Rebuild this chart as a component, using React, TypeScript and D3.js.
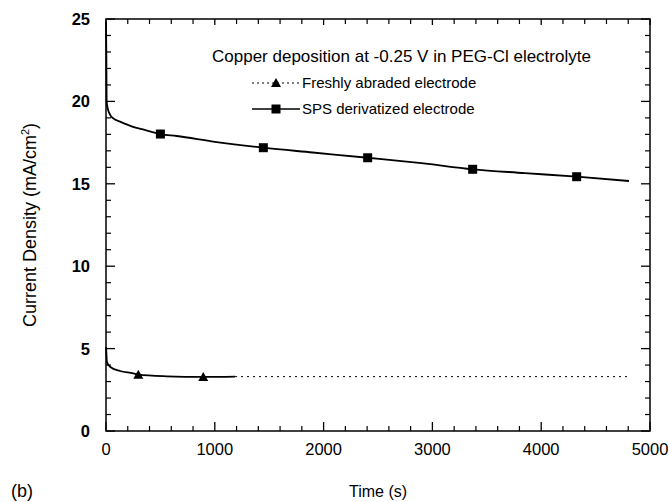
import React from "react";
import * as d3 from "d3";

// ---- data ----
const spsTimes = [0, 3, 6, 15, 37, 70, 129, 248, 340, 500, 650, 1000, 1446, 1900, 2405, 2900, 3370, 3850, 4326, 4807];
const spsValues = [24.8, 23.0, 20.0, 19.6, 19.2, 18.95, 18.77, 18.46, 18.3, 18.02, 17.9, 17.55, 17.19, 16.9, 16.58, 16.25, 15.88, 15.65, 15.43, 15.17];
const spsMarkerTimes = [500, 1446, 2405, 3370, 4326];

const abradedTimes = [0, 3, 8, 37, 129, 251, 297, 558, 894, 1186];
const abradedValues = [5.1, 4.8, 4.2, 3.9, 3.64, 3.5, 3.42, 3.32, 3.28, 3.3];
const abradedMarkerTimes = [297, 894];
const abradedExtendTo = 4807;

const xTicks = [0, 1000, 2000, 3000, 4000, 5000];
const yTicks = [0, 5, 10, 15, 20, 25];

const legendTitle = "Copper deposition at -0.25 V in PEG-Cl electrolyte";
const seriesNames = ["Freshly abraded electrode", "SPS derivatized electrode"];

const W = 669, H = 502;
const M = { left: 106, right: 650, top: 19, bottom: 431 };
const FONT = "'Liberation Sans', Arial, Helvetica, sans-serif";

export default function App() {
  const x = d3.scaleLinear().domain([0, 5000]).range([M.left, M.right]);
  const y = d3.scaleLinear().domain([0, 25]).range([M.bottom, M.top]);

  const interp = (ts: number[], vs: number[], t: number) => {
    const i = d3.bisectLeft(ts, t);
    if (i <= 0) return vs[0];
    if (i >= ts.length) return vs[vs.length - 1];
    const f = (t - ts[i - 1]) / (ts[i] - ts[i - 1]);
    return vs[i - 1] + f * (vs[i] - vs[i - 1]);
  };

  const line = d3.line<[number, number]>().x(d => x(d[0])).y(d => y(d[1])).curve(d3.curveMonotoneX);
  const spsPath = line(spsTimes.map((t, i) => [t, spsValues[i]]))!;
  const abrPath = line(abradedTimes.map((t, i) => [t, abradedValues[i]]))!;
  const lastAbr = abradedValues[abradedValues.length - 1];
  const extPath = d3.line()([[x(abradedTimes[abradedTimes.length - 1]), y(lastAbr)], [x(abradedExtendTo), y(lastAbr)]])!;

  const xMinor = d3.range(0, 5001, 200).filter(v => v % 1000 !== 0);
  const yMinor = d3.range(0, 26, 1).filter(v => v % 5 !== 0);
  const major = 9, minor = 5;

  const tri = (cx: number, cy: number, s = 10) =>
    `M${cx},${cy - s * 0.5} L${cx + s / 2},${cy + s * 0.4} L${cx - s / 2},${cy + s * 0.4} Z`;
  const sq = 9;

  const legX1 = 252, legX2 = 300, legMid = 276;
  const leg1Y = 83, leg2Y = 109;

  return (
    <svg width={W} height={H} style={{ position: "absolute", left: 0, top: 0, background: "#fff" }} fontFamily={FONT}>
      <rect x={0} y={0} width={W} height={H} fill="#fff" />
      {/* frame */}
      <rect x={M.left} y={M.top} width={M.right - M.left} height={M.bottom - M.top} fill="none" stroke="#000" strokeWidth={1.5} />
      {/* x ticks bottom & top */}
      {xTicks.map(v => (
        <g key={"xt" + v}>
          <line x1={x(v)} x2={x(v)} y1={M.bottom} y2={M.bottom - major} stroke="#000" strokeWidth={1.3} />
          <line x1={x(v)} x2={x(v)} y1={M.top} y2={M.top + minor + 1} stroke="#000" strokeWidth={1.3} />
          <text x={x(v)} y={455} textAnchor="middle" fontSize={16.5} fill="#000">{v}</text>
        </g>
      ))}
      {xMinor.map(v => (
        <g key={"xm" + v}>
          <line x1={x(v)} x2={x(v)} y1={M.bottom} y2={M.bottom - minor} stroke="#000" strokeWidth={1.2} />
          <line x1={x(v)} x2={x(v)} y1={M.top} y2={M.top + minor} stroke="#000" strokeWidth={1.2} />
        </g>
      ))}
      {/* y ticks left & right */}
      {yTicks.map(v => (
        <g key={"yt" + v}>
          <line x1={M.left} x2={M.left + major} y1={y(v)} y2={y(v)} stroke="#000" strokeWidth={1.3} />
          <line x1={M.right} x2={M.right - major} y1={y(v)} y2={y(v)} stroke="#000" strokeWidth={1.3} />
          <text x={90} y={y(v) + 6} textAnchor="end" fontSize={16.5} fontWeight="bold" fill="#000">{v}</text>
        </g>
      ))}
      {yMinor.map(v => (
        <g key={"ym" + v}>
          <line x1={M.left} x2={M.left + minor} y1={y(v)} y2={y(v)} stroke="#000" strokeWidth={1.2} />
          <line x1={M.right} x2={M.right - minor} y1={y(v)} y2={y(v)} stroke="#000" strokeWidth={1.2} />
        </g>
      ))}

      {/* data */}
      <path d={spsPath} fill="none" stroke="#000" strokeWidth={1.8} />
      <path d={abrPath} fill="none" stroke="#000" strokeWidth={1.8} />
      <path d={extPath} fill="none" stroke="#000" strokeWidth={1} strokeDasharray="2,4" />
      {spsMarkerTimes.map(t => (
        <rect key={"s" + t} x={x(t) - sq / 2} y={y(interp(spsTimes, spsValues, t)) - sq / 2} width={sq} height={sq} fill="#000" />
      ))}
      {abradedMarkerTimes.map(t => (
        <path key={"a" + t} d={tri(x(t), y(interp(abradedTimes, abradedValues, t)))} fill="#000" />
      ))}

      {/* legend */}
      <text x={212} y={62} fontSize={17} fill="#000">{legendTitle}</text>
      <line x1={legX1} x2={legX2} y1={leg1Y} y2={leg1Y} stroke="#000" strokeWidth={1} strokeDasharray="2,3" />
      <path d={tri(legMid, leg1Y)} fill="#000" />
      <text x={302} y={leg1Y + 5} fontSize={15} fill="#000">{seriesNames[0]}</text>
      <line x1={legX1} x2={legX2} y1={leg2Y} y2={leg2Y} stroke="#000" strokeWidth={1.5} />
      <rect x={legMid - sq / 2} y={leg2Y - sq / 2} width={sq} height={sq} fill="#000" />
      <text x={302} y={leg2Y + 5} fontSize={15} fill="#000">{seriesNames[1]}</text>

      {/* axis titles */}
      <text transform={`translate(36,225) rotate(-90)`} textAnchor="middle" fontSize={18} fill="#000">
        Current Density (mA/cm<tspan dy={-7} fontSize={11}>2</tspan><tspan dy={7}>)</tspan>
      </text>
      <text x={378} y={497} textAnchor="middle" fontSize={16} fill="#000">Time (s)</text>
      <text x={11} y={497} fontSize={18} fill="#000">(b)</text>
    </svg>
  );
}
